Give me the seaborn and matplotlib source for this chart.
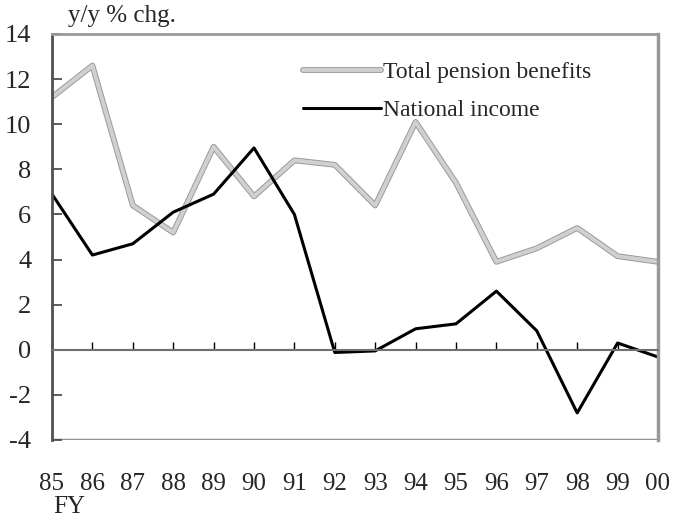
import matplotlib
matplotlib.use("Agg")
import matplotlib.pyplot as plt
import matplotlib.patheffects as pe
import seaborn as sns
import pandas as pd
import numpy as np

fiscal_years = ["85", "86", "87", "88", "89", "90", "91", "92", "93", "94",
                "95", "96", "97", "98", "99", "00"]
pension_benefits = [11.2, 12.6, 6.4, 5.2, 9.0, 6.8, 8.4, 8.2, 6.4, 10.1,
                    7.4, 3.9, 4.5, 5.4, 4.15, 3.9]
national_income = [6.9, 4.2, 4.7, 6.1, 6.9, 8.95, 6.0, -0.12, -0.05, 0.93,
                   1.15, 2.6, 0.84, -2.8, 0.3, -0.32]
y_ticks = [-4, -2, 0, 2, 4, 6, 8, 10, 12, 14]

sns.set_style("white")
plt.rcParams["font.family"] = ["Liberation Serif", "DejaVu Serif"]

df = pd.DataFrame({
    "pos": np.arange(len(fiscal_years)),
    "pension": pension_benefits,
    "income": national_income,
})

fig = plt.figure(figsize=(6.73, 5.23), dpi=100)
ax = fig.add_axes([52 / 673, 1 - 440 / 523, 606 / 673, 406 / 523])

sns.lineplot(data=df, x="pos", y="pension", ax=ax, color="#d0d0d0", linewidth=2.8,
             label="Total pension benefits",
             path_effects=[pe.Stroke(linewidth=4.2, foreground="#9a9a9a"), pe.Normal()])
sns.lineplot(data=df, x="pos", y="income", ax=ax, color="black", linewidth=2.2,
             label="National income")

ax.set_xlim(0, len(fiscal_years) - 1)
ax.set_ylim(-4, 14)
ax.set_xlabel("")
ax.set_ylabel("")

# x axis at zero with upward ticks; labels placed far below
ax.spines["bottom"].set_position(("data", 0))
ax.spines["bottom"].set_color("#707070")
ax.spines["bottom"].set_linewidth(1.5)
ax.axhline(-4, color="#909090", linewidth=2.5, zorder=0.5)
ax.spines["top"].set_color("#999999")
ax.spines["top"].set_linewidth(2)
ax.spines["right"].set_color("#999999")
ax.spines["right"].set_linewidth(2.5)
ax.spines["left"].set_color("#505050")
ax.spines["left"].set_linewidth(2)

ax.set_yticks(y_ticks)
ax.set_yticklabels([str(v) for v in y_ticks])
ax.set_xticks(df["pos"])
ax.set_xticklabels(fiscal_years)

ax.tick_params(axis="y", direction="in", length=7, width=1.2, color="#404040",
               pad=15, left=True, labelsize=19)
ax.tick_params(axis="x", direction="in", length=6, width=1, color="black",
               pad=89, bottom=True, labelsize=18)

leg = ax.legend(loc="upper left", bbox_to_anchor=(0.398, 0.955), frameon=False,
                fontsize=17, handlelength=3.3, handletextpad=0.12,
                labelspacing=0.7, borderaxespad=0)

fig.text(68 / 673, 1 - 16 / 523, "y/y % chg.", fontsize=18, va="center",
         ha="left")
fig.text(53 / 673, 1 - 507 / 523, "FY", fontsize=18, va="center", ha="left")

fig.savefig("out.png", dpi=100)
